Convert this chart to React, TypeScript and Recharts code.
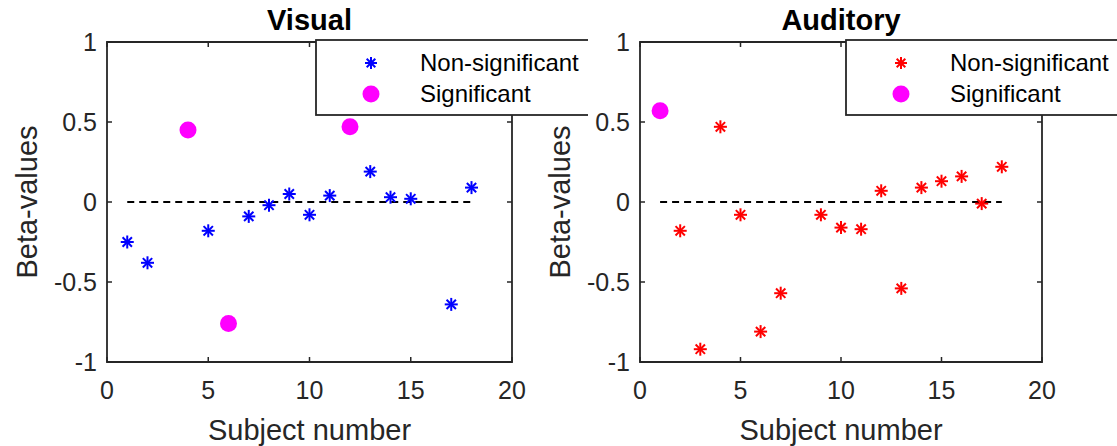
import {
  Legend,
  ReferenceArea,
  ReferenceLine,
  Scatter,
  ScatterChart,
  XAxis,
  YAxis,
} from "recharts"

// --- data ---
const xTicks = [0, 5, 10, 15, 20]
const yTicks = [-1, -0.5, 0, 0.5, 1]
const zeroLineX = [1, 18]

const visualNonSigX = [1, 2, 5, 7, 8, 9, 10, 11, 13, 14, 15, 17, 18]
const visualNonSigY = [-0.25, -0.38, -0.18, -0.09, -0.02, 0.05, -0.08, 0.04, 0.19, 0.03, 0.02, -0.64, 0.09]
const visualSigX = [4, 6, 12]
const visualSigY = [0.45, -0.76, 0.47]

const auditoryNonSigX = [2, 3, 4, 5, 6, 7, 9, 10, 11, 12, 13, 14, 15, 16, 17, 18]
const auditoryNonSigY = [-0.18, -0.92, 0.47, -0.08, -0.81, -0.57, -0.08, -0.16, -0.17, 0.07, -0.54, 0.09, 0.13, 0.16, -0.01, 0.22]
const auditorySigX = [1]
const auditorySigY = [0.57]

const FONT = '"Liberation Sans", Arial, Helvetica, sans-serif'
const INK = "#262626"
const PLOT_TOP = 42
const PLOT_H = 320
const CHART_H = 446

const toPoints = (xs: number[], ys: number[]) => xs.map((x, i) => ({ x, y: ys[i] }))

// MATLAB-style '*' marker
function Star({ cx, cy, color, r = 6.5 }: { cx: number; cy: number; color: string; r?: number }) {
  const d = r * 0.72
  return (
    <g stroke={color} strokeWidth={2}>
      <line x1={cx - r} y1={cy} x2={cx + r} y2={cy} />
      <line x1={cx} y1={cy - r} x2={cx} y2={cy + r} />
      <line x1={cx - d} y1={cy - d} x2={cx + d} y2={cy + d} />
      <line x1={cx - d} y1={cy + d} x2={cx + d} y2={cy - d} />
    </g>
  )
}

function Dot({ cx, cy }: { cx: number; cy: number }) {
  return <circle cx={cx} cy={cy} r={8.5} fill="#ff00ff" />
}

function makeXTick(plotH: number) {
  return (props: any) => {
    const { x, y, payload } = props
    return (
      <g>
        <line x1={x} x2={x} y1={y} y2={y - 5} stroke={INK} strokeWidth={1.5} />
        <line x1={x} x2={x} y1={y - plotH} y2={y - plotH + 5} stroke={INK} strokeWidth={1.5} />
        <text x={x} y={y + 37} textAnchor="middle" fontSize={25} fontFamily={FONT} fill={INK}>
          {payload.value}
        </text>
      </g>
    )
  }
}

function makeYTick(plotW: number) {
  return (props: any) => {
    const { x, y, payload } = props
    return (
      <g>
        <line x1={x} x2={x + 5} y1={y} y2={y} stroke={INK} strokeWidth={1.5} />
        <line x1={x + plotW - 5} x2={x + plotW} y1={y} y2={y} stroke={INK} strokeWidth={1.5} />
        <text x={x - 10} y={y + 9} textAnchor="end" fontSize={25} fontFamily={FONT} fill={INK}>
          {payload.value}
        </text>
      </g>
    )
  }
}

function LegendBox({ payload }: any) {
  const rows = payload || []
  return (
    <svg width={273} height={77} style={{ display: "block" }}>
      <rect x={1} y={1} width={280} height={75} fill="#fff" stroke={INK} strokeWidth={1.8} />
      {rows.map((entry: any, i: number) => {
        const cy = 24 + i * 31
        return (
          <g key={i}>
            {entry.type === "star" ? (
              <Star cx={56} cy={cy} color={entry.color} r={6} />
            ) : (
              <Dot cx={56} cy={cy} />
            )}
            <text x={105} y={cy + 8} fontSize={24} fontFamily={FONT} fill="#000">
              {entry.value}
            </text>
          </g>
        )
      })}
    </svg>
  )
}

interface PanelProps {
  title: string
  color: string
  nonSig: { x: number; y: number }[]
  sig: { x: number; y: number }[]
  width: number
  plotLeft: number
  plotW: number
}

function Panel({ title, color, nonSig, sig, width, plotLeft, plotW }: PanelProps) {
  const yAxisW = 60
  const xAxisH = 40
  const margin = {
    top: PLOT_TOP,
    bottom: CHART_H - PLOT_TOP - PLOT_H - xAxisH,
    left: plotLeft - yAxisW,
    right: width - plotLeft - plotW,
  }
  return (
    <div style={{ position: "relative", width, height: CHART_H }}>
      <div
        style={{
          position: "absolute",
          left: plotLeft,
          width: plotW,
          top: 3,
          textAlign: "center",
          fontFamily: FONT,
          fontWeight: "bold",
          fontSize: 29,
          lineHeight: "34px",
          color: "#000",
          zIndex: 1,
        }}
      >
        {title}
      </div>
      <ScatterChart width={width} height={CHART_H} margin={margin}>
        <XAxis
          type="number"
          dataKey="x"
          domain={[0, 20]}
          ticks={xTicks}
          interval={0}
          allowDataOverflow
          axisLine={false}
          tickLine={false}
          tickSize={0}
          tickMargin={0}
          height={xAxisH}
          tick={makeXTick(PLOT_H)}
          label={{
            content: (p: any) => {
              const vb = p.viewBox
              return (
                <text x={vb.x + vb.width / 2} y={vb.y + 78} textAnchor="middle" fontSize={29} fontFamily={FONT} fill={INK}>
                  Subject number
                </text>
              )
            },
          }}
        />
        <YAxis
          type="number"
          dataKey="y"
          domain={[-1, 1]}
          ticks={yTicks}
          interval={0}
          allowDataOverflow
          axisLine={false}
          tickLine={false}
          tickSize={0}
          tickMargin={0}
          width={yAxisW}
          tick={makeYTick(plotW)}
          label={{
            content: (p: any) => {
              const vb = p.viewBox
              const bx = vb.x + vb.width - 70
              const by = vb.y + vb.height / 2
              return (
                <text
                  x={bx}
                  y={by}
                  transform={`rotate(-90, ${bx}, ${by})`}
                  textAnchor="middle"
                  fontSize={29}
                  fontFamily={FONT}
                  fill={INK}
                >
                  Beta-values
                </text>
              )
            },
          }}
        />
        <ReferenceArea x1={0} x2={20} y1={-1} y2={1} fill="none" stroke={INK} strokeWidth={1.8} fillOpacity={0} />
        <ReferenceLine
          segment={[
            { x: zeroLineX[0], y: 0 },
            { x: zeroLineX[1], y: 0 },
          ]}
          stroke="#000"
          strokeWidth={1.8}
          strokeDasharray="7 5"
        />
        <Scatter
          name="Non-significant"
          data={nonSig}
          fill={color}
          legendType="star"
          isAnimationActive={false}
          shape={(p: any) => <Star cx={p.cx} cy={p.cy} color={color} />}
        />
        <Scatter
          name="Significant"
          data={sig}
          fill="#ff00ff"
          legendType="circle"
          isAnimationActive={false}
          shape={(p: any) => <Dot cx={p.cx} cy={p.cy} />}
        />
        <Legend
          layout="vertical"
          align="center"
          verticalAlign="middle"
          content={<LegendBox />}
          wrapperStyle={{ left: 315, top: 39, width: 273, height: 77 }}
        />
      </ScatterChart>
    </div>
  )
}

export default function App() {
  return (
    <div style={{ position: "absolute", left: 0, top: 0, width: 1117, height: CHART_H, background: "#fff", overflow: "hidden" }}>
      <div style={{ position: "absolute", left: 0, top: 0 }}>
        <Panel
          title="Visual"
          color="#0000ff"
          nonSig={toPoints(visualNonSigX, visualNonSigY)}
          sig={toPoints(visualSigX, visualSigY)}
          width={560}
          plotLeft={107}
          plotW={405}
        />
      </div>
      <div style={{ position: "absolute", left: 530, top: 0 }}>
        <Panel
          title="Auditory"
          color="#ff0000"
          nonSig={toPoints(auditoryNonSigX, auditoryNonSigY)}
          sig={toPoints(auditorySigX, auditorySigY)}
          width={587}
          plotLeft={110}
          plotW={402}
        />
      </div>
    </div>
  )
}
